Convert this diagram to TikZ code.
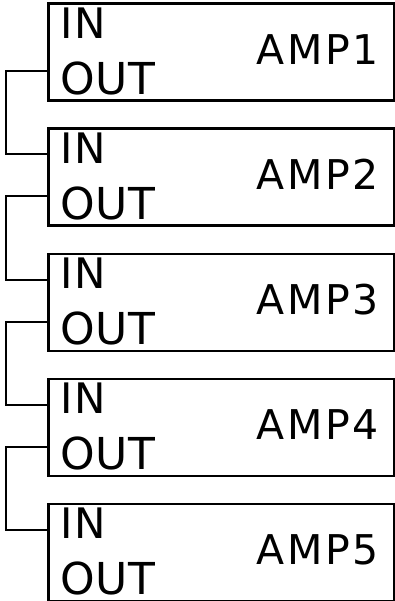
\documentclass[tikz,border=0pt]{standalone}
\usepackage{fontspec}
\setmainfont{DejaVu Sans}
\usetikzlibrary{calc}
\tikzset{
  ampbox/.style={draw, line width=2.6pt, minimum width=346pt, minimum height=97pt, inner sep=0pt, anchor=north west},
  inlabel/.style={font=\fontsize{42}{42}\selectfont\addfontfeature{LetterSpace=4}, inner sep=0pt, text depth=0pt, anchor=base west},
  outlabel/.style={font=\fontsize{44}{44}\selectfont\addfontfeature{LetterSpace=2}, inner sep=0pt, text depth=0pt, anchor=base west},
  amplabel/.style={font=\fontsize{41}{41}\selectfont\addfontfeature{LetterSpace=6}, inner sep=0pt, text depth=0pt, anchor=base east},
  wire/.style={line width=2pt}
}
\begin{document}
\begin{tikzpicture}[x=1pt,y=1pt]
\useasboundingbox (0,0) rectangle (394,-601);
\foreach \i in {1,...,5}{
  \pgfmathsetmacro{\t}{-2.5-125*(\i-1)}
  \node[ampbox] (amp\i) at (47,\t) {};
  \node[inlabel] (in\i) at ($(amp\i.north west)+(13,-36)$) {IN};
  \node[outlabel] (out\i) at ($(amp\i.north west)+(13,-92)$) {OUT};
  \node[amplabel] (lab\i) at ($(amp\i.north east)+(-17,-62)$) {AMP\i};
  \coordinate (ip\i) at ($(amp\i.north west)+(0,-27)$);
  \coordinate (op\i) at ($(amp\i.north west)+(0,-69)$);
}
\foreach \i/\j in {1/2,2/3,3/4,4/5}{
  \draw[wire] (op\i) -- ($(op\i)+(-41,0)$) |- (ip\j);
}
\end{tikzpicture}
\end{document}
